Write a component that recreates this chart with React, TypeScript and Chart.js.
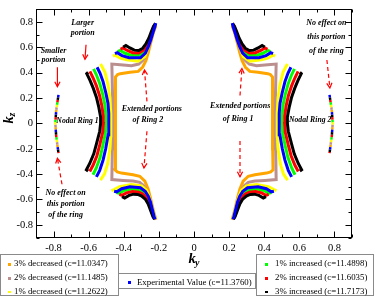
import React, { useEffect, useRef } from "react";
import { Chart, registerables } from "chart.js";

Chart.register(...registerables);

type Pt = [number, number];

// ---------------- series / legend ----------------
const seriesLabels = [
  "3% decreased (c=11.0347)",
  "2% decreased (c=11.1485)",
  "1% decreased (c=11.2622)",
  "Experimental Value (c=11.3760)",
  "1% increased (c=11.4898)",
  "2% increased (c=11.6035)",
  "3% increased (c=11.7173)",
];
const seriesColors = ["#ffa500", "#bc8f8f", "#ffff00", "#0000ff", "#00ff00", "#ff0000", "#000000"];
const seriesOrder = [6, 5, 4, 0, 3, 2, 1];

// ---------------- axis ticks ----------------
const xTicks = [-0.8, -0.6, -0.4, -0.2, 0, 0.2, 0.4, 0.6, 0.8];
const xMinorTicks = [-0.9, -0.7, -0.5, -0.3, -0.1, 0.1, 0.3, 0.5, 0.7, 0.9];
const yTicks = [-0.8, -0.6, -0.4, -0.2, 0, 0.2, 0.4, 0.6, 0.8];
const yMinorTicks = [-0.9, -0.7, -0.5, -0.3, -0.1, 0.1, 0.3, 0.5, 0.7, 0.9];

// ---------------- data: left half (ky < 0); right half is its mirror ----------------
const outerRing: Pt[] = [[-0.772, 0.225], [-0.785, 0.1], [-0.79, 0], [-0.785, -0.1], [-0.772, -0.235]];

const orangeMain: Pt[] = [
  [-0.217, -0.76], [-0.232, -0.684], [-0.247, -0.595], [-0.261, -0.519], [-0.28, -0.455], [-0.309, -0.417],
  [-0.347, -0.405], [-0.413, -0.392], [-0.437, -0.382], [-0.45, -0.366], [-0.448, -0.2], [-0.447, 0],
  [-0.447, 0.2], [-0.447, 0.366], [-0.435, 0.385], [-0.42, 0.392], [-0.365, 0.404], [-0.318, 0.41],
  [-0.293, 0.443], [-0.274, 0.494], [-0.261, 0.557], [-0.247, 0.633], [-0.233, 0.709], [-0.217, 0.773],
];
const rosyMain: Pt[] = [
  [-0.222, -0.752], [-0.23, -0.71], [-0.242, -0.646], [-0.256, -0.59], [-0.27, -0.532], [-0.288, -0.49],
  [-0.309, -0.465], [-0.347, -0.455], [-0.404, -0.45], [-0.468, -0.443], [-0.465, -0.2], [-0.462, 0],
  [-0.465, 0.2], [-0.468, 0.468], [-0.42, 0.462], [-0.356, 0.455], [-0.315, 0.468], [-0.29, 0.5],
  [-0.272, 0.555], [-0.258, 0.615], [-0.246, 0.665], [-0.235, 0.715], [-0.225, 0.762], [-0.219, 0.785],
];

const yellowInner: Pt[] = [
  [-0.533, -0.448], [-0.51, -0.4], [-0.492, -0.32], [-0.479, -0.2], [-0.475, -0.1], [-0.473, 0],
  [-0.475, 0.075], [-0.479, 0.2], [-0.489, 0.3], [-0.507, 0.403], [-0.532, 0.468],
];
const yellowArcUp: Pt[] = [
  [-0.462, 0.53], [-0.45, 0.538], [-0.42, 0.515], [-0.384, 0.502], [-0.318, 0.49], [-0.28, 0.528],
  [-0.261, 0.602], [-0.248, 0.658], [-0.236, 0.713], [-0.225, 0.76], [-0.219, 0.785],
];
const yellowArcLow: Pt[] = [
  [-0.47, -0.53], [-0.455, -0.522], [-0.424, -0.5], [-0.356, -0.482], [-0.299, -0.494], [-0.27, -0.528],
  [-0.255, -0.58], [-0.242, -0.645], [-0.23, -0.71], [-0.222, -0.755],
];

const blueInner: Pt[] = [
  [-0.556, -0.422], [-0.537, -0.37], [-0.518, -0.29], [-0.503, -0.2], [-0.489, -0.09], [-0.485, 0],
  [-0.486, 0.08], [-0.49, 0.16], [-0.502, 0.24], [-0.518, 0.33], [-0.535, 0.395], [-0.552, 0.443],
];
const blueArcUp: Pt[] = [
  [-0.45, 0.55], [-0.437, 0.558], [-0.41, 0.535], [-0.37, 0.518], [-0.305, 0.518], [-0.277, 0.555],
  [-0.259, 0.61], [-0.246, 0.66], [-0.234, 0.714], [-0.223, 0.762], [-0.218, 0.79],
];
const blueArcLow: Pt[] = [
  [-0.455, -0.535], [-0.44, -0.54], [-0.412, -0.515], [-0.365, -0.5], [-0.305, -0.508], [-0.278, -0.535],
  [-0.26, -0.575], [-0.248, -0.62], [-0.237, -0.68], [-0.227, -0.735], [-0.222, -0.757],
];

const greenInner: Pt[] = [
  [-0.575, -0.405], [-0.556, -0.35], [-0.535, -0.27], [-0.52, -0.18], [-0.505, -0.08], [-0.501, 0],
  [-0.502, 0.07], [-0.508, 0.15], [-0.52, 0.23], [-0.537, 0.315], [-0.555, 0.38], [-0.572, 0.43],
];
const greenArcUp: Pt[] = [
  [-0.435, 0.567], [-0.42, 0.576], [-0.395, 0.555], [-0.36, 0.538], [-0.31, 0.537], [-0.282, 0.565],
  [-0.263, 0.615], [-0.249, 0.663], [-0.237, 0.716], [-0.226, 0.763], [-0.219, 0.788],
];
const greenArcLow: Pt[] = [
  [-0.44, -0.545], [-0.425, -0.552], [-0.4, -0.53], [-0.36, -0.518], [-0.31, -0.524], [-0.285, -0.545],
  [-0.266, -0.58], [-0.252, -0.625], [-0.24, -0.685], [-0.229, -0.735], [-0.223, -0.755],
];

const redInner: Pt[] = [
  [-0.594, -0.379], [-0.575, -0.33], [-0.553, -0.255], [-0.537, -0.17], [-0.52, -0.07], [-0.516, 0],
  [-0.517, 0.06], [-0.525, 0.14], [-0.538, 0.22], [-0.557, 0.3], [-0.575, 0.36], [-0.593, 0.41],
];
const redArcUp: Pt[] = [
  [-0.418, 0.585], [-0.405, 0.595], [-0.38, 0.575], [-0.35, 0.558], [-0.315, 0.555], [-0.288, 0.578],
  [-0.268, 0.622], [-0.253, 0.667], [-0.24, 0.718], [-0.228, 0.765], [-0.219, 0.788],
];
const redArcLow: Pt[] = [
  [-0.425, -0.56], [-0.41, -0.568], [-0.385, -0.548], [-0.35, -0.538], [-0.315, -0.542], [-0.29, -0.558],
  [-0.27, -0.59], [-0.256, -0.632], [-0.243, -0.688], [-0.231, -0.735], [-0.224, -0.755],
];

const blackInner: Pt[] = [
  [-0.603, -0.376], [-0.613, -0.366], [-0.594, -0.316], [-0.571, -0.24], [-0.556, -0.163], [-0.537, -0.062],
  [-0.532, 0], [-0.532, 0.05], [-0.542, 0.126], [-0.555, 0.202], [-0.574, 0.278], [-0.593, 0.341],
  [-0.611, 0.392], [-0.603, 0.402],
];
const blackArcUp: Pt[] = [
  [-0.403, 0.603], [-0.388, 0.614], [-0.365, 0.595], [-0.34, 0.578], [-0.315, 0.575], [-0.292, 0.593],
  [-0.273, 0.63], [-0.258, 0.67], [-0.244, 0.72], [-0.231, 0.765], [-0.219, 0.79],
];
const blackArcLow: Pt[] = [
  [-0.41, -0.578], [-0.395, -0.588], [-0.37, -0.568], [-0.345, -0.558], [-0.32, -0.56], [-0.298, -0.573],
  [-0.276, -0.6], [-0.261, -0.635], [-0.246, -0.69], [-0.234, -0.735], [-0.225, -0.755],
];

const seriesPaths: Pt[][][] = [
  [outerRing, orangeMain],
  [outerRing, rosyMain],
  [outerRing, yellowInner, yellowArcUp, yellowArcLow],
  [outerRing, blueInner, blueArcUp, blueArcLow],
  [outerRing, greenInner, greenArcUp, greenArcLow],
  [outerRing, redInner, redArcUp, redArcLow],
  [outerRing, blackInner, blackArcUp, blackArcLow],
];

// ---------------- annotations ----------------
const notes: { text: string; x: number; y: number; align?: CanvasTextAlign }[] = [
  { text: "Larger", x: -0.634, y: 0.79 },
  { text: "portion", x: -0.634, y: 0.714 },
  { text: "Smaller", x: -0.8, y: 0.57 },
  { text: "portion", x: -0.8, y: 0.497 },
  { text: "Nodal Ring 1", x: -0.784, y: 0.022, align: "left" },
  { text: "Extended portions", x: -0.24, y: 0.113 },
  { text: "of Ring 2", x: -0.263, y: 0.029 },
  { text: "No effect on", x: -0.731, y: -0.549 },
  { text: "this portion", x: -0.731, y: -0.633 },
  { text: "of the ring", x: -0.731, y: -0.724 },
  { text: "Extended portions", x: 0.263, y: 0.136 },
  { text: "of Ring 1", x: 0.251, y: 0.037 },
  { text: "Nodal Ring 2", x: 0.541, y: 0.029, align: "left" },
  { text: "No effect on", x: 0.754, y: 0.79 },
  { text: "this portion", x: 0.754, y: 0.683 },
  { text: "of the ring", x: 0.754, y: 0.569 },
];
const arrows: { from: Pt; to: Pt; dashed: boolean }[] = [
  { from: [-0.615, 0.62], to: [-0.621, 0.506], dashed: false },
  { from: [-0.778, 0.443], to: [-0.778, 0.29], dashed: false },
  { from: [-0.268, 0.174], to: [-0.282, 0.421], dashed: true },
  { from: [-0.268, -0.062], to: [-0.285, -0.351], dashed: true },
  { from: [-0.752, -0.48], to: [-0.778, -0.275], dashed: true },
  { from: [0.262, 0.22], to: [0.273, 0.433], dashed: true },
  { from: [0.262, -0.138], to: [0.262, -0.42], dashed: true },
  { from: [0.757, 0.5], to: [0.774, 0.28], dashed: true },
];

const SERIF = '"Liberation Serif", "Times New Roman", serif';
const fmt = (v: number) => (v === 0 ? "0" : v.toFixed(1));

function buildData(paths: Pt[][]) {
  const out: { x: number; y: number }[] = [];
  const gap = { x: NaN, y: NaN };
  for (const p of paths) {
    for (const [x, y] of p) out.push({ x, y });
    out.push(gap);
  }
  for (const p of paths) {
    for (const [x, y] of p) out.push({ x: -x, y });
    out.push(gap);
  }
  return out;
}

const isOuter = (c: any) => Math.abs(c.p0.parsed.x) > 0.7 && Math.abs(c.p1.parsed.x) > 0.7;

const decorPlugin = {
  id: "decor",
  afterDatasetsDraw(chart: any) {
    const { ctx } = chart;
    const xs = chart.scales.x;
    const ys = chart.scales.y;
    ctx.save();
    ctx.strokeStyle = "#ff0000";
    ctx.lineWidth = 1.2;
    for (const a of arrows) {
      const x0 = xs.getPixelForValue(a.from[0]);
      const y0 = ys.getPixelForValue(a.from[1]);
      const x1 = xs.getPixelForValue(a.to[0]);
      const y1 = ys.getPixelForValue(a.to[1]);
      ctx.setLineDash(a.dashed ? [4, 3] : []);
      ctx.beginPath();
      ctx.moveTo(x0, y0);
      ctx.lineTo(x1, y1);
      ctx.stroke();
      ctx.setLineDash([]);
      const ang = Math.atan2(y1 - y0, x1 - x0);
      const hl = 5.5;
      ctx.beginPath();
      ctx.moveTo(x1 - hl * Math.cos(ang - 0.5), y1 - hl * Math.sin(ang - 0.5));
      ctx.lineTo(x1, y1);
      ctx.lineTo(x1 - hl * Math.cos(ang + 0.5), y1 - hl * Math.sin(ang + 0.5));
      ctx.stroke();
    }
    ctx.fillStyle = "#000";
    ctx.textBaseline = "middle";
    for (const n of notes) {
      ctx.font = n.align ? `italic bold 7.7px ${SERIF}` : `italic bold 8px ${SERIF}`;
      ctx.textAlign = n.align || "center";
      ctx.fillText(n.text, xs.getPixelForValue(n.x), ys.getPixelForValue(n.y));
    }
    ctx.restore();
  },
  afterDraw(chart: any) {
    const { ctx, chartArea } = chart;
    const xs = chart.scales.x;
    const ys = chart.scales.y;
    const L = Math.round(chartArea.left) + 0.5;
    const R = Math.round(chartArea.right) - 0.5;
    const T = Math.round(chartArea.top) + 0.5;
    const B = Math.round(chartArea.bottom) - 0.5;
    ctx.save();
    ctx.strokeStyle = "#000";
    ctx.lineWidth = 1;
    ctx.strokeRect(L, T, R - L, B - T);
    const tick = (vals: number[], len: number) => {
      for (const v of vals) {
        const px = Math.round(xs.getPixelForValue(v)) + 0.5;
        ctx.beginPath();
        ctx.moveTo(px, B);
        ctx.lineTo(px, B - len);
        ctx.moveTo(px, T);
        ctx.lineTo(px, T + len);
        ctx.stroke();
      }
    };
    const tickY = (vals: number[], len: number) => {
      for (const v of vals) {
        const py = Math.round(ys.getPixelForValue(v)) + 0.5;
        ctx.beginPath();
        ctx.moveTo(L, py);
        ctx.lineTo(L + len, py);
        ctx.moveTo(R, py);
        ctx.lineTo(R - len, py);
        ctx.stroke();
      }
    };
    tick(xTicks, 6);
    tick(xMinorTicks, 3);
    tickY(yTicks, 6);
    tickY(yMinorTicks, 3);
    ctx.fillStyle = "#000";
    ctx.textAlign = "left";
    ctx.textBaseline = "alphabetic";
    ctx.font = `italic bold 14.5px ${SERIF}`;
    ctx.fillText("k", 188.5, 263.3);
    ctx.font = `italic bold 10px ${SERIF}`;
    ctx.fillText("y", 195, 265.7);
    ctx.translate(12.7, 123.5);
    ctx.rotate(-Math.PI / 2);
    ctx.font = `italic bold 14.5px ${SERIF}`;
    ctx.fillText("k", 0, 0);
    ctx.font = `italic bold 10px ${SERIF}`;
    ctx.fillText("z", 7, 1.8);
    ctx.restore();
  },
};

function LegendBox(props: { left: number; top: number; width: number; height: number; idx: number[]; rows: number[]; textLeft: number; markLeft: number }) {
  const { left, top, width, height, idx, rows, textLeft, markLeft } = props;
  return (
    <div
      style={{
        position: "absolute",
        left,
        top,
        width,
        height,
        border: "1px solid #8a8a8a",
        boxSizing: "border-box",
        background: "#fff",
      }}
    >
      {idx.map((si, k) => (
        <React.Fragment key={si}>
          <div
            style={{
              position: "absolute",
              left: markLeft - left - 1,
              top: rows[k] - top - 1.2,
              width: 2.5,
              height: 2.5,
              background: seriesColors[si],
            }}
          />
          <div
            style={{
              position: "absolute",
              left: textLeft - left - 1,
              top: rows[k] - top - 7,
              height: 12,
              lineHeight: "12px",
              fontFamily: SERIF,
              fontSize: 8.8,
              color: "#000",
              whiteSpace: "nowrap",
            }}
          >
            {seriesLabels[si]}
          </div>
        </React.Fragment>
      ))}
    </div>
  );
}

export default function App() {
  const ref = useRef<HTMLCanvasElement | null>(null);
  useEffect(() => {
    document.body.style.margin = "0";
    if (!ref.current) return;
    const chart = new Chart(ref.current, {
      type: "scatter",
      data: {
        datasets: seriesPaths.map((paths, i) => ({
          label: seriesLabels[i],
          data: buildData(paths),
          showLine: true,
          borderColor: seriesColors[i],
          backgroundColor: seriesColors[i],
          borderWidth: 3,
          pointRadius: 0,
          pointHoverRadius: 0,
          spanGaps: false,
          order: seriesOrder[i],
          borderJoinStyle: "miter",
          segment: {
            borderDash: (c: any) => (isOuter(c) ? [2.5, 15] : undefined),
            borderDashOffset: (c: any) => (isOuter(c) ? -2.5 * seriesOrder[i] : undefined),
            borderWidth: (c: any) => (isOuter(c) ? 2.5 : undefined),
          },
        })),
      },
      options: {
        responsive: false,
        animation: false,
        devicePixelRatio: 1,
        events: [],
        layout: { padding: { top: 1.5, right: 22, left: 0, bottom: 0 } },
        plugins: { legend: { display: false }, tooltip: { enabled: false }, title: { display: false } },
        scales: {
          x: {
            type: "linear",
            position: "bottom",
            min: -0.9,
            max: 0.9,
            grid: { display: false, drawTicks: false },
            border: { display: false },
            ticks: {
              color: "#000",
              font: { family: SERIF, size: 10.5 },
              padding: 4,
              maxRotation: 0,
              autoSkip: false,
              callback: (v: any) => fmt(Number(v)),
            },
            afterBuildTicks: (s: any) => {
              s.ticks = xTicks.map((v) => ({ value: v }));
            },
            afterFit: (s: any) => {
              s.height = 62.5;
            },
          },
          y: {
            type: "linear",
            position: "left",
            min: -0.9,
            max: 0.9,
            grid: { display: false, drawTicks: false },
            border: { display: false },
            ticks: {
              color: "#000",
              font: { family: SERIF, size: 10.5 },
              padding: 3,
              autoSkip: false,
              callback: (v: any) => fmt(Number(v)),
            },
            afterBuildTicks: (s: any) => {
              s.ticks = yTicks.map((v) => ({ value: v }));
            },
            afterFit: (s: any) => {
              s.width = 36;
            },
          },
        },
      } as any,
      plugins: [decorPlugin],
    });
    return () => chart.destroy();
  }, []);

  return (
    <div style={{ position: "absolute", left: 0, top: 0, width: 374, height: 300, background: "#fff" }}>
      <canvas ref={ref} width={374} height={300} style={{ position: "absolute", left: 0, top: 0 }} />
      <LegendBox left={0} top={254} width={119} height={42} idx={[0, 1, 2]} rows={[263.3, 277.3, 290.7]} textLeft={14} markLeft={8} />
      <LegendBox left={118} top={273} width={138} height={16} idx={[3]} rows={[281.5]} textLeft={137} markLeft={128} />
      <LegendBox left={256} top={254} width={118} height={42} idx={[4, 5, 6]} rows={[263.3, 277.3, 290.7]} textLeft={275} markLeft={265} />
    </div>
  );
}
